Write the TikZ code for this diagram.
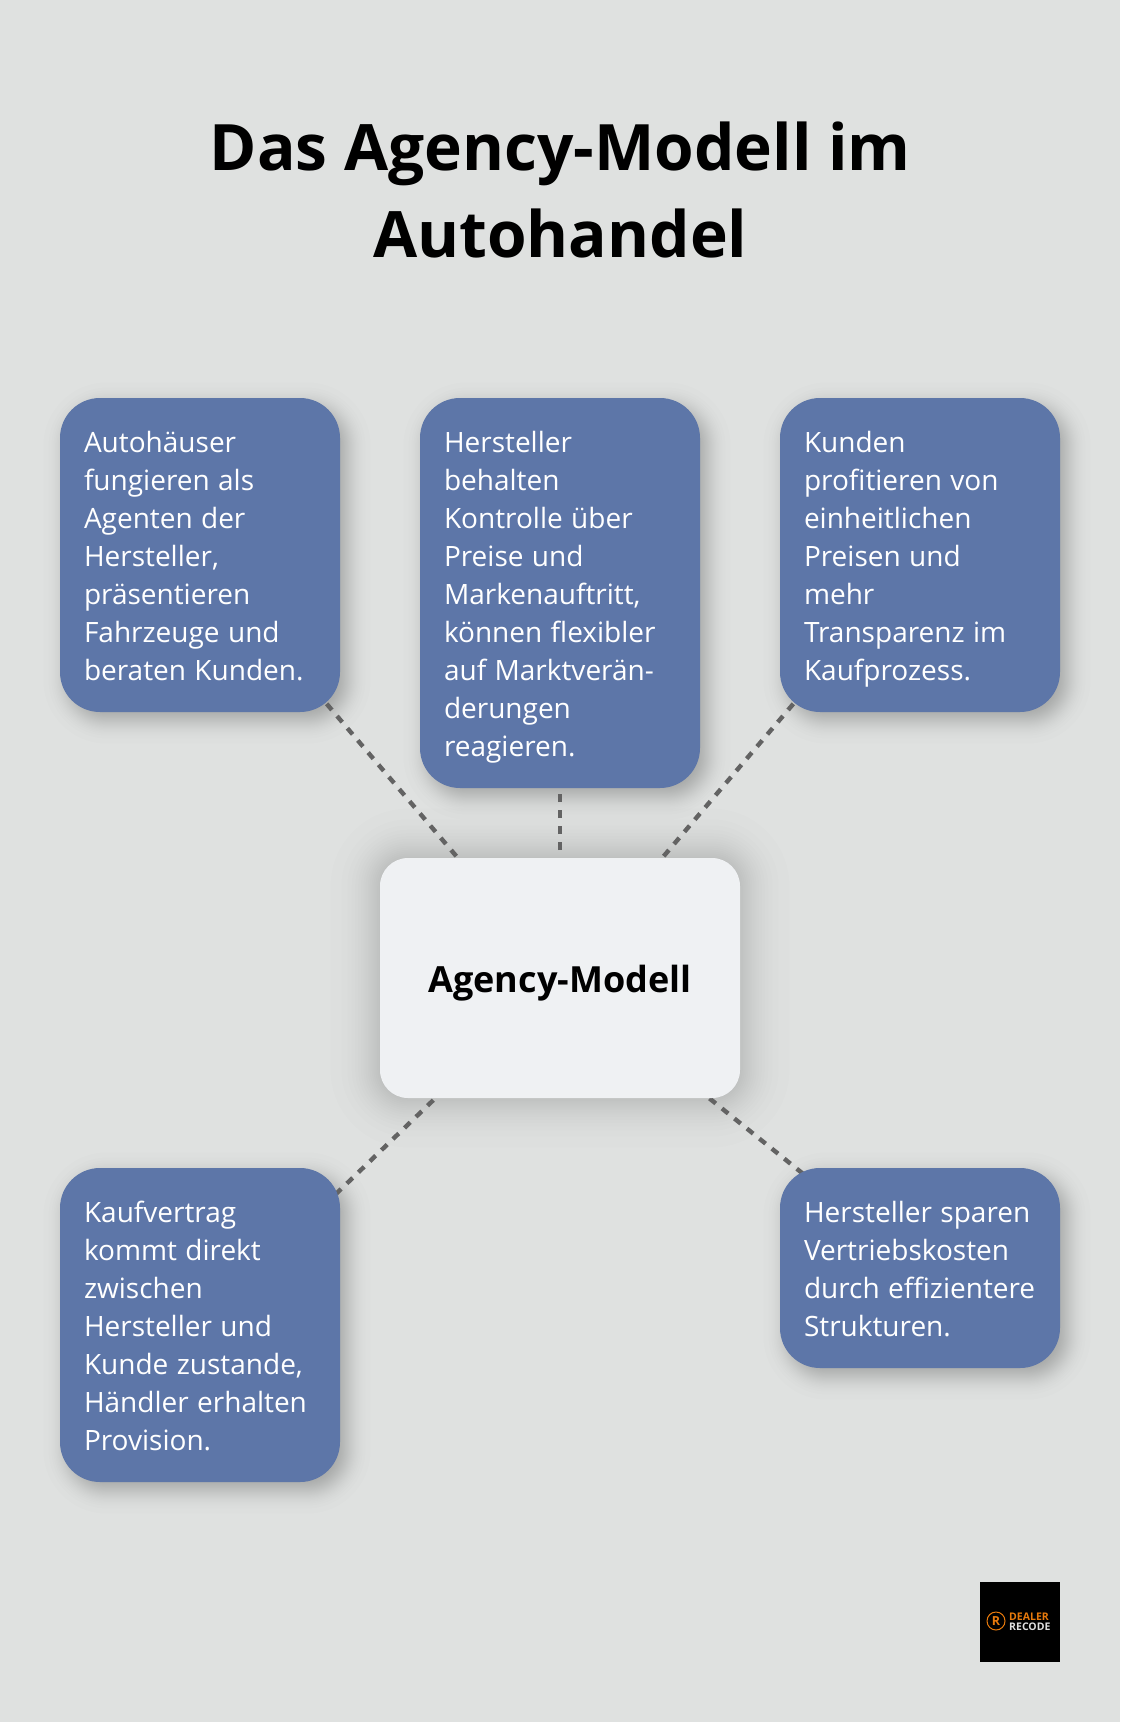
\documentclass[tikz,border=0pt]{standalone}
\usepackage{fontspec}
\setmainfont{Open Sans}
\usetikzlibrary{calc}
\definecolor{bgc}{HTML}{DFE1E0}
\definecolor{bluec}{HTML}{5D76A8}
\definecolor{centerc}{HTML}{EFF1F3}
\definecolor{dashc}{HTML}{636363}
\definecolor{logoo}{HTML}{E87A0C}
\definecolor{logow}{HTML}{E0E0E0}
\pgfdeclarelayer{bglayer}
\pgfdeclarelayer{shadowlayer}
\pgfdeclarelayer{linelayer}
\pgfsetlayers{bglayer,shadowlayer,linelayer,main}
\newcommand{\softshadow}[6]{% name, radius, dx, dy, sigma, opacity per layer
  \begin{pgfonlayer}{shadowlayer}
  \foreach \q in {-2.15,-1.68,-1.42,-1.23,-1.08,-0.95,-0.83,-0.72,-0.63,-0.53,-0.45,-0.36,-0.28,-0.20,-0.12,-0.04,0.04,0.12,0.20,0.28,0.36,0.45,0.53,0.63,0.72,0.83,0.95,1.08,1.23,1.42,1.68,2.15}{
    \pgfmathsetmacro{\e}{\q*#5}
    \pgfmathsetmacro{\rr}{max(#2+\e,1)}
    \pgfmathsetmacro{\xa}{#3-\e}
    \pgfmathsetmacro{\ya}{#4-\e}
    \pgfmathsetmacro{\xb}{#3+\e}
    \pgfmathsetmacro{\yb}{#4+\e}
    \fill[black,opacity=#6,rounded corners=\rr pt]
      ($(#1.north west)+(\xa,\ya)$) rectangle ($(#1.south east)+(\xb,\yb)$);
  }
  \end{pgfonlayer}}
\newcommand{\firstln}{\spaceskip=8.4pt\relax\rule{0pt}{30pt}}
\newcommand{\lastln}{\rule[-8pt]{0pt}{8pt}}
\tikzset{
  infobox/.style={draw=none,fill=bluec,text=white,rounded corners=40pt,anchor=north west,
    inner xsep=24pt,inner ysep=24pt,outer sep=0pt,text width=232pt,align=left,
    font=\fontsize{28}{38}\selectfont},
  hubbox/.style={fill=centerc,rounded corners=28pt,minimum width=360pt,minimum height=240pt,
    inner sep=0pt,outer sep=0pt,font=\fontsize{36}{48}\bfseries\selectfont,text=black},
  titletext/.style={align=center,font=\fontsize{64}{87}\bfseries\selectfont,text=black,inner sep=0pt},
  link/.style={draw=dashc,line width=4.4pt,dash pattern=on 8pt off 8pt}
}
\begin{document}
\begin{tikzpicture}[x=1pt,y=-1pt]
\useasboundingbox (0,0) rectangle (1120,1722);
\begin{pgfonlayer}{bglayer}
\fill[bgc] (0,0) rectangle (1120,1722);
\end{pgfonlayer}
\node[titletext] (title) at (560.3,189.5) {Das Agency-Modell im\\Autohandel};
\node[infobox] (a) at (60,398) {\firstln Autohäuser\\fungieren als\\Agenten der\\Hersteller,\\präsentieren\\Fahrzeuge und\\beraten Kunden.\lastln};
\node[infobox] (b) at (420,398) {\firstln Hersteller\\behalten\\Kontrolle über\\Preise und\\Markenauftritt,\\können flexibler\\auf Marktverän-\\derungen\\reagieren.\lastln};
\node[infobox] (c) at (780,398) {\firstln Kunden\\profitieren von\\einheitlichen\\Preisen und\\mehr\\Transparenz im\\Kaufprozess.\lastln};
\node[infobox] (d) at (60,1168) {\firstln Kaufvertrag\\kommt direkt\\zwischen\\Hersteller und\\Kunde zustande,\\Händler erhalten\\Provision.\lastln};
\node[infobox] (e) at (780,1168) {\firstln Hersteller sparen\\Vertriebskosten\\\mbox{durch effizientere}\\Strukturen.\lastln};
\node[hubbox] (hub) at (560,978) {\raisebox{-14.5pt}[0pt][0pt]{Agency-Modell}};
\foreach \n in {a,b,c,d,e}{\softshadow{\n}{40}{7}{8}{11}{0.0095}}
\softshadow{hub}{28}{0}{0}{23}{0.0085}
\begin{pgfonlayer}{linelayer}
\draw[link] (hub.center) -- (a.center);
\draw[link] (hub.center) -- (b.center);
\draw[link] (hub.center) -- (c.center);
\draw[link] (hub.center) -- (d.center);
\draw[link] (hub.center) -- (e.center);
\end{pgfonlayer}
\node[fill=black,minimum size=80pt,inner sep=0pt,outer sep=0pt] (logo) at (1020,1622) {};
\node[circle,draw=logoo,line width=1pt,minimum size=18pt,inner sep=0pt,text=logoo,font=\fontsize{12.5}{12.5}\bfseries\selectfont] (logomark) at (996,1621) {R};
\node[anchor=west,inner sep=0pt,text=logoo,font=\fontsize{10.5}{11}\bfseries\selectfont] (logotop) at (1009,1617) {DEALER};
\node[anchor=west,inner sep=0pt,text=logow,font=\fontsize{10.5}{11}\bfseries\selectfont] (logobot) at (1009,1627) {RECODE};
\end{tikzpicture}
\end{document}
